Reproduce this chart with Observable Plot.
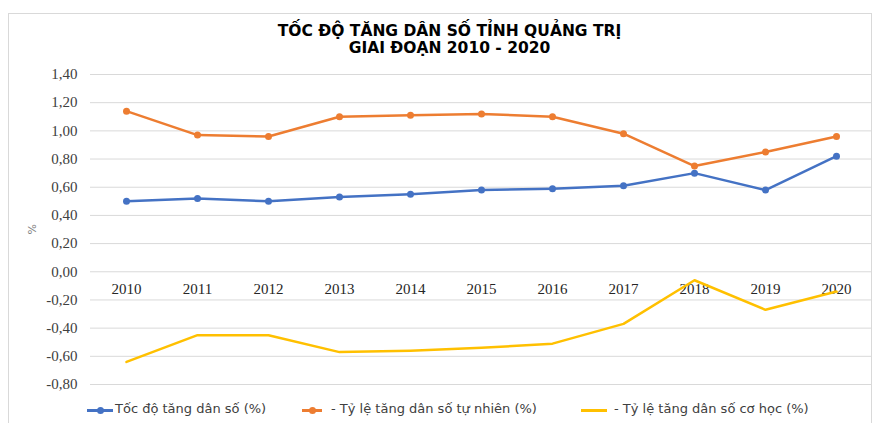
<!DOCTYPE html>
<html>
<head>
<meta charset="utf-8">
<script src="https://cdn.jsdelivr.net/npm/d3@7"></script>
<script src="https://cdn.jsdelivr.net/npm/@observablehq/plot@0.6"></script>
<style>
  html, body { margin: 0; padding: 0; background: #fff; }
  #wrap { position: relative; width: 874px; height: 423px; overflow: hidden; background: #fff; }
  #frame { position: absolute; left: 8px; top: 13px; width: 864px; height: 420px; border: 1px solid #d9d9d9; box-sizing: border-box; }
  #title { position: absolute; left: 0; width: 899px; top: 23px; text-align: center; font-family: "DejaVu Sans"; font-weight: bold; font-size: 15.5px; line-height: 17px; color: #000; }
  #chart { position: absolute; left: 0; top: 60px; }
  #legend { position: absolute; left: 0; top: 401px; width: 874px; height: 18px; font-family: "DejaVu Sans"; font-size: 13px; color: #404040; }
  .li { position: absolute; top: 0; white-space: nowrap; }
  .sw { position: absolute; top: 8px; height: 3px; }
  .dot { position: absolute; top: 6px; width: 7px; height: 7px; border-radius: 50%; }
</style>
</head>
<body>
<div id="wrap">
  <div id="frame"></div>
  <div id="title"></div>
  <div id="chart"></div>
  <div id="legend"></div>
</div>
<script>
const titleLines = ["TỐC ĐỘ TĂNG DÂN SỐ TỈNH QUẢNG TRỊ", "GIAI ĐOẠN 2010 - 2020"];
const years = ["2010","2011","2012","2013","2014","2015","2016","2017","2018","2019","2020"];
const seriesNames = ["Tốc độ tăng dân số (%)", "- Tỷ lệ tăng dân số tự nhiên (%)", "- Tỷ lệ tăng dân số cơ học (%)"];
const seriesColors = ["#4472C4", "#ED7D31", "#FFC000"];
const totalRate = [0.50, 0.52, 0.50, 0.53, 0.55, 0.58, 0.59, 0.61, 0.70, 0.58, 0.82];
const naturalRate = [1.14, 0.97, 0.96, 1.10, 1.11, 1.12, 1.10, 0.98, 0.75, 0.85, 0.96];
const mechanicalRate = [-0.64, -0.45, -0.45, -0.57, -0.56, -0.54, -0.51, -0.37, -0.06, -0.27, -0.14];
const yTicks = [-0.8, -0.6, -0.4, -0.2, 0, 0.2, 0.4, 0.6, 0.8, 1.0, 1.2, 1.4];
const yLabel = "%";

document.getElementById("title").innerHTML = titleLines.join("<br>");

const toRows = (vals, s) => vals.map((v, i) => ({year: years[i], value: v, series: s}));
const blue = toRows(totalRate, seriesNames[0]);
const orange = toRows(naturalRate, seriesNames[1]);
const yellow = toRows(mechanicalRate, seriesNames[2]);
const fmt = d => d.toFixed(2).replace(".", ",");

const serif = "'Liberation Serif', 'Times New Roman', serif";

const chart = Plot.plot({
  width: 874,
  height: 336,
  marginTop: 14,
  marginBottom: 12,
  marginLeft: 90,
  marginRight: 3,
  style: {fontFamily: serif, fontSize: "15px", color: "#404040", background: "transparent"},
  x: {type: "point", domain: years, padding: 0.5, axis: null},
  y: {domain: [-0.8, 1.4], ticks: yTicks, label: null},
  marks: [
    Plot.gridY(yTicks, {stroke: "#d9d9d9", strokeOpacity: 1, strokeWidth: 1}),
    Plot.axisY(yTicks, {tickSize: 0, tickPadding: 13, tickFormat: fmt, fontSize: 15, fill: "#404040", label: null}),
    Plot.text(years, {x: d => d, y: () => 0, dy: 17, fontSize: 15, fill: "#262626"}),
    Plot.text([yLabel], {frameAnchor: "left", dx: -58, dy: 5, rotate: -90, fontSize: 11, fill: "#808080", fontFamily: "DejaVu Sans"}),
    Plot.line(yellow, {x: "year", y: "value", stroke: seriesColors[2], strokeWidth: 2.5, strokeLinejoin: "round"}),
    Plot.line(blue, {x: "year", y: "value", stroke: seriesColors[0], strokeWidth: 2.5, strokeLinejoin: "round"}),
    Plot.dot(blue, {x: "year", y: "value", fill: seriesColors[0], r: 3.5}),
    Plot.line(orange, {x: "year", y: "value", stroke: seriesColors[1], strokeWidth: 2.5, strokeLinejoin: "round"}),
    Plot.dot(orange, {x: "year", y: "value", fill: seriesColors[1], r: 3.5})
  ]
});
document.getElementById("chart").appendChild(chart);

const legend = document.getElementById("legend");
const items = [
  {sw: [87, 113], text: 115, dot: true},
  {sw: [302, 322], text: 331, dot: true},
  {sw: [581, 607], text: 614, dot: false}
];
items.forEach((it, i) => {
  const sw = document.createElement("div");
  sw.className = "sw";
  sw.style.left = it.sw[0] + "px";
  sw.style.width = (it.sw[1] - it.sw[0]) + "px";
  sw.style.background = seriesColors[i];
  legend.appendChild(sw);
  if (it.dot) {
    const d = document.createElement("div");
    d.className = "dot";
    d.style.left = ((it.sw[0] + it.sw[1]) / 2 - 3.5) + "px";
    d.style.background = seriesColors[i];
    legend.appendChild(d);
  }
  const t = document.createElement("div");
  t.className = "li";
  t.style.left = it.text + "px";
  t.textContent = seriesNames[i];
  legend.appendChild(t);
});
</script>
</body>
</html>
